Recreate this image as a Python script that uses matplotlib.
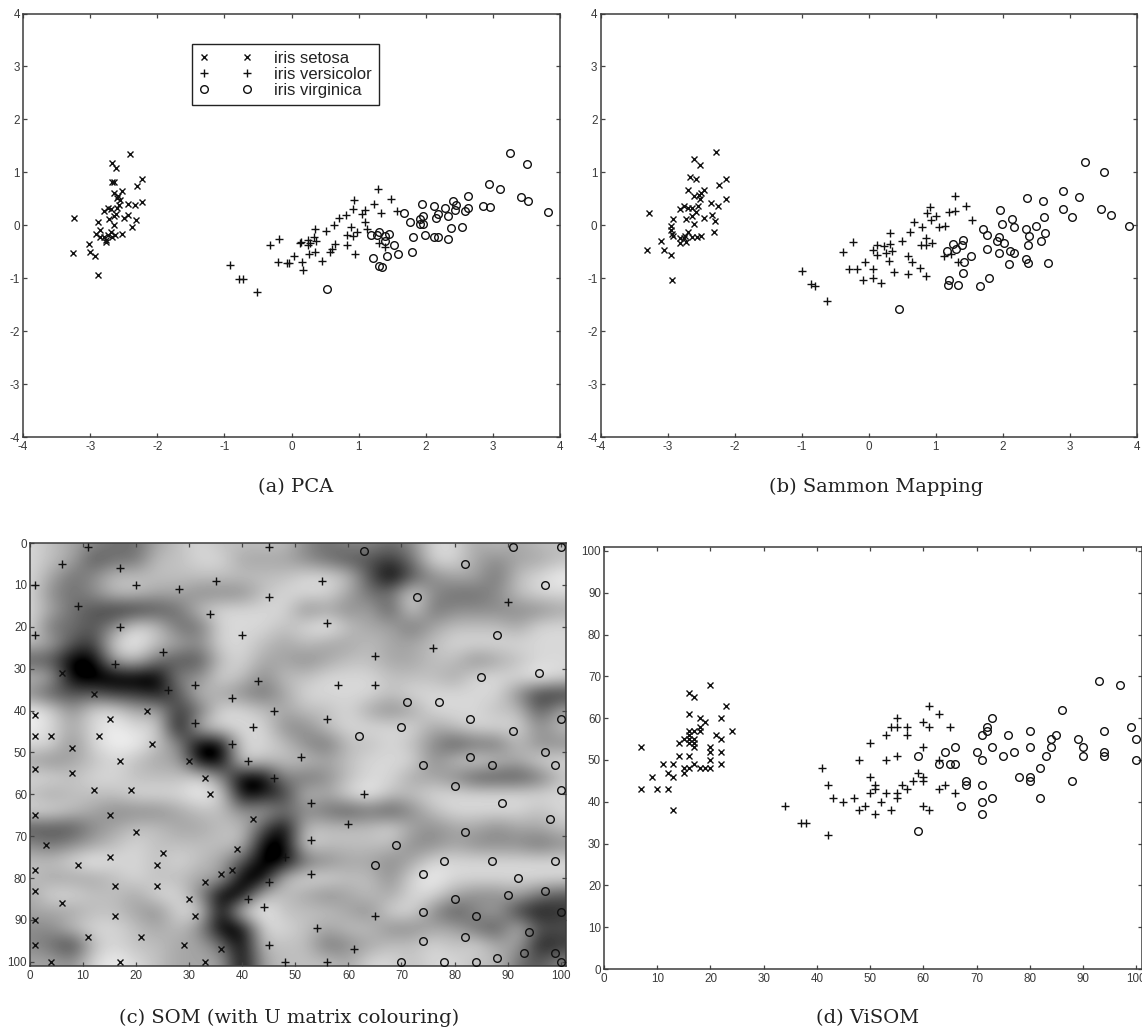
import numpy as np
import matplotlib
matplotlib.use("Agg")
import matplotlib.pyplot as plt
from matplotlib.colors import PowerNorm

plt.rcParams['font.family'] = ['Liberation Sans', 'DejaVu Sans']
plt.rcParams['axes.unicode_minus'] = False

# ---------- (a) PCA ----------
pca_setosa_x = [-2.40,-2.67,-2.62,-2.67,-2.64,-2.22,-2.30,-2.53,-2.64,-2.58,-2.60,-2.56,-2.22,-2.33,-2.43,-2.57,-2.60,-2.73,-2.69,-2.80,-2.61,-2.65,-2.72,-2.43,-2.49,-2.32,-2.89,-3.24,-2.64,-2.37,-2.85,-2.91,-2.69,-2.53,-2.63,-2.73,-2.68,-2.86,-2.79,-2.76,-2.77,-3.02,-3.25,-3.00,-2.92,-2.88]
pca_setosa_y = [1.34,1.18,1.09,.81,.81,.87,.74,.64,.60,.56,.51,.47,.43,.39,.41,.38,.33,.32,.31,.27,.22,.17,.11,.19,.13,.09,.07,.13,.01,-.04,-.09,-.16,-.13,-.16,-.19,-.19,-.22,-.23,-.23,-.27,-.32,-.35,-.52,-.50,-.58,-.94]
pca_versi_x = [-.92,-.78,-.72,-.52,-.32,-.18,-.20,-.07,-.03,.04,.12,.16,.17,.45,.14,.24,.24,.27,.34,.37,.35,.26,.35,.51,.58,.61,.65,.64,.71,.81,.82,.82,.92,.89,.98,.95,.91,.93,1.05,1.09,1.10,1.12,1.23,1.29,1.34,1.48,1.57,1.30,1.39]
pca_versi_y = [-.76,-1.02,-1.02,-1.27,-.38,-.26,-.69,-.72,-.72,-.59,-.33,-.69,-.84,-.68,-.32,-.27,-.38,-.33,-.22,-.30,-.08,-.55,-.51,-.11,-.50,-.45,-.36,.01,.14,.19,-.38,-.18,-.20,-.04,-.13,-.55,.31,.47,.22,.28,.07,-.08,.40,.68,.23,.49,.26,-.33,-.42]
pca_virgi_x = [.53,1.18,1.21,1.30,1.27,1.30,1.35,1.39,1.40,1.45,1.42,1.53,1.59,1.67,1.77,1.79,1.81,1.94,1.96,1.92,1.91,1.96,1.99,2.12,2.18,2.16,2.13,2.18,2.29,2.33,2.33,2.37,2.40,2.45,2.44,2.58,2.63,2.63,2.54,2.86,2.95,2.94,3.10,3.25,3.51,3.42,3.52,3.82]
pca_virgi_y = [-1.21,-.18,-.61,-.13,-.19,-.77,-.79,-.21,-.30,-.16,-.58,-.38,-.55,.23,.07,-.51,-.23,.40,.18,.11,.03,.03,-.19,.36,.21,.13,-.22,-.23,.32,.17,-.26,-.05,.45,.38,.29,.26,.33,.55,-.03,.36,.34,.77,.68,1.36,1.16,.53,.45,.25]

# ---------- (b) Sammon ----------
sam_setosa_x = [-2.28,-2.60,-2.51,-2.66,-2.57,-2.13,-2.23,-2.46,-2.69,-2.60,-2.53,-2.50,-2.52,-2.13,-2.35,-2.25,-2.55,-2.63,-2.69,-2.75,-2.81,-2.58,-2.64,-2.72,-2.46,-2.34,-2.29,-2.92,-3.28,-2.61,-2.95,-2.95,-2.93,-2.92,-2.31,-2.69,-2.50,-2.56,-2.64,-2.74,-2.81,-2.76,-2.72,-2.81,-3.10,-3.30,-3.05,-2.95,-2.93]
sam_setosa_y = [1.38,1.25,1.14,.92,.87,.88,.76,.67,.67,.56,.58,.61,.50,.50,.42,.36,.36,.33,.32,.37,.30,.25,.17,.12,.14,.20,.08,.11,.23,.02,-.01,-.09,-.16,-.21,-.12,-.13,-.21,-.22,-.22,-.20,-.24,-.25,-.31,-.33,-.30,-.46,-.46,-.57,-1.04]
sam_versi_x = [-1.00,-.86,-.80,-.63,-.39,-.23,-.30,-.17,-.05,-.08,.07,.06,.18,.06,.13,.22,.31,.35,.25,.13,.31,.30,.38,.49,.61,.58,.64,.58,.76,.86,.67,.79,.87,.93,.91,1.01,1.05,1.14,1.20,1.29,1.28,1.45,1.54,.78,.85,.86,.94,1.12,1.22,1.33]
sam_versi_y = [-.86,-1.11,-1.14,-1.43,-.50,-.31,-.82,-.83,-.70,-1.03,-.82,-.99,-1.10,-.47,-.38,-.40,-.36,-.48,-.53,-.57,-.14,-.68,-.88,-.30,-.13,-.58,-.69,-.93,-.81,-.96,.06,-.03,.23,.09,.35,.18,-.03,-.02,.25,.26,.56,.37,.09,-.38,-.38,-.25,-.33,-.58,-.55,-.69]
sam_virgi_x = [.45,1.17,1.25,1.30,1.39,1.41,1.52,1.42,1.40,1.19,1.18,1.33,1.66,1.79,1.76,1.71,1.77,1.96,1.98,1.94,1.91,2.02,1.94,2.09,2.11,2.16,2.14,2.17,2.35,2.39,2.38,2.35,2.37,2.36,2.49,2.60,2.61,2.63,2.57,2.68,2.89,2.90,3.03,3.13,3.23,3.51,3.46,3.61,3.88]
sam_virgi_y = [-1.58,-.48,-.36,-.44,-.38,-.27,-.58,-.69,-.91,-1.04,-1.12,-1.13,-1.14,-.99,-.45,-.07,-.18,.28,.03,-.23,-.30,-.33,-.53,-.73,-.48,-.52,.11,-.03,-.07,-.20,-.38,-.64,-.71,.52,-.01,.45,.16,-.14,-.30,-.71,.64,.31,.16,.53,1.19,1.01,.31,.20,-.02]

# ---------- (c) SOM ----------
som_setosa_x = [1,1,4,13,15,22,12,6,8,23,17,30,1,8,33,12,19,34,1,15,42,20,3,39,25,15,9,24,1,38,36,16,24,33,1,6,30,16,31,1,11,21,1,29,36,4,17,33]
som_setosa_y = [41,46,46,46,42,40,36,31,49,48,52,52,54,55,56,59,59,60,65,65,66,69,72,73,74,75,77,77,78,78,79,82,82,81,83,86,85,89,89,90,94,94,96,96,97,100,100,100]
som_versi_x = [11,45,6,17,1,20,35,28,45,9,34,17,1,40,25,16,43,31,26,38,46,31,42,38,41,55,56,65,76,58,65,56,51,90,46,48,45,41,44,45,48,63,53,60,53,53,65,54,61,56]
som_versi_y = [1,1,5,6,10,10,9,11,13,15,17,20,22,22,26,29,33,34,35,37,40,43,44,48,52,9,19,27,25,34,34,42,51,14,56,75,81,85,87,96,100,60,62,67,71,79,89,92,97,100]
som_virgi_x = [63,91,100,82,97,73,88,96,85,71,77,70,83,100,62,91,97,83,74,87,99,80,100,89,98,82,69,78,87,99,65,74,92,97,90,80,74,100,84,94,82,74,93,99,88,70,78,84,100]
som_virgi_y = [2,1,1,5,10,13,22,31,32,38,38,44,42,42,46,45,50,51,53,53,53,58,59,62,66,69,72,76,76,76,77,79,80,83,84,85,88,88,89,93,94,95,98,98,99,100,100,100,100]
# U-matrix gray levels (0 black .. 9 light) read on a coarse 26x26 lattice, step 4 units
u_levels_rows = [
    "8765446787777" "5455458867677",
    "8763447788666" "5433248865667",
    "8645777777777" "8873035664789",
    "8545776655578" "8864485445788",
    "8643223478888" "5656384555556",
    "8443587448887" "8976646777688",
    "7632897658876" "7667667888888",
    "3300674337866" "5677667756788",
    "7600000558757" "7888777688898",
    "5333221376546" "8888788888522",
    "9858866248876" "7786568887736",
    "9868988078885" "5788886788857",
    "8858997500887" "5477875344755",
    "6567876600877" "7678885787688",
    "8878877785005" "4578866533347",
    "7677788898012" "7689778888888",
    "8876555677564" "5434357888878",
    "3335677667730" "7777865665667",
    "5456787777700" "8777755655545",
    "7789887876300" "4566568888888",
    "7666787766007" "8877589888888",
    "6887768850077" "6567688655643",
    "6667765880897" "7765885356212",
    "5578876750088" "7677556643733",
    "5427877664077" "7456778786612",
    "6658987666067" "7768878877435",
]
u_matrix = np.array([[int(c) for c in r] for r in u_levels_rows], dtype=float)

# ---------- (d) ViSOM ----------
vis_setosa_x = [20,16,17,23,16,18,19,22,24,16,17,18,18,21,22,16,15,16,14,16,17,17,17,20,20,22,14,16,20,11,13,22,17,15,16,18,19,20,15,12,13,9,7,7,10,12,13]
vis_setosa_y = [68,66,65,63,61,60,59,60,57,57,57,57,58,56,55,56,55,55,54,54,55,54,53,53,52,52,51,51,50,49,49,49,49,48,48,48,48,48,47,47,46,46,53,43,43,43,38]
vis_versi_x = [34,37,38,42,41,48,50,42,43,45,47,49,48,50,50,51,51,51,52,53,54,55,55,53,54,55,55,57,57,53,55,56,57,58,59,60,60,60,60,61,61,63,65,60,61,63,64,66,63]
vis_versi_y = [39,35,35,32,48,50,54,44,41,40,41,39,38,46,42,44,43,37,40,42,38,42,41,56,58,58,60,58,56,50,51,44,43,45,47,46,45,53,59,58,63,61,58,39,38,43,44,42,50]
vis_virgi_x = [59,59,63,64,65,66,66,68,68,67,70,71,72,72,73,71,73,71,71,71,73,76,75,77,80,80,78,80,80,82,82,83,84,84,85,86,88,89,90,90,94,94,94,93,97,99,100,100]
vis_virgi_y = [33,51,49,52,49,49,53,45,44,39,52,56,57,58,60,50,53,44,40,37,41,56,51,52,57,53,46,46,45,48,41,51,53,55,56,62,45,55,53,51,57,52,51,69,68,58,55,50]

labels = ["iris setosa", "iris versicolor", "iris virginica"]
panel_captions = ["(a) PCA", "(b) Sammon Mapping", "(c) SOM (with U matrix colouring)", "(d) ViSOM"]
ticks_pca = list(range(-4, 5))
ticks_pct = list(range(0, 101, 10))

W, H = 1142, 1035
fig = plt.figure(figsize=(W/100, H/100), dpi=100, facecolor='white')

def make_axes(l, t, r, b):
    ax = fig.add_axes([l/W, 1-b/H, (r-l)/W, (b-t)/H])
    ax.tick_params(direction='in', length=3, width=0.9, top=True, right=True,
                   labelsize=8.4, labelcolor='#3a3a3a', color='#444444')
    ax.tick_params(axis='x', pad=3.2)
    ax.tick_params(axis='y', pad=2.2)
    for s in ax.spines.values():
        s.set_linewidth(1.1)
        s.set_edgecolor('#3c3c3c')
    return ax

def draw(ax, xs, ys):
    hs = []
    styles = [('x', 4.3), ('+', 5.6), ('o', 5.5)]
    for (x, y), (m, ms), lab in zip(zip(xs, ys), styles, labels):
        h, = ax.plot(x, y, ls='none', marker=m, ms=ms, mew=1.0, mfc='none', mec='#111111',
                     label=lab, clip_on=False, zorder=3)
        hs.append(h)
    return hs

# (a)
ax = make_axes(23, 13.5, 560, 437)
hs = draw(ax, [pca_setosa_x, pca_versi_x, pca_virgi_x], [pca_setosa_y, pca_versi_y, pca_virgi_y])
ax.set_xlim(-4, 4); ax.set_ylim(-4, 4)
ax.set_xticks(ticks_pca); ax.set_yticks(ticks_pca)
leg = ax.legend(handles=hs, loc='upper left', bbox_to_anchor=(0.3147, 0.928), borderaxespad=0,
                numpoints=2, handlelength=3.2, handletextpad=1.33, borderpad=0.42,
                labelspacing=0.05, fontsize=12, frameon=True, fancybox=False, framealpha=1,
                edgecolor='#222222')
leg.get_frame().set_linewidth(1.0)
for t in leg.get_texts():
    t.set_color('#222222')

# (b)
ax = make_axes(600.5, 13.5, 1137, 437)
draw(ax, [sam_setosa_x, sam_versi_x, sam_virgi_x], [sam_setosa_y, sam_versi_y, sam_virgi_y])
ax.set_xlim(-4, 4); ax.set_ylim(-4, 4)
ax.set_xticks(ticks_pca); ax.set_yticks(ticks_pca)

# (c)
ax = make_axes(30, 543, 566, 966)
ax.imshow(u_matrix, cmap='gray', norm=PowerNorm(0.85, vmin=0.6, vmax=9.6), interpolation='bicubic',
          extent=(-2, 102, 102, -2), aspect='auto', zorder=1)
draw(ax, [som_setosa_x, som_versi_x, som_virgi_x], [som_setosa_y, som_versi_y, som_virgi_y])
ax.set_xlim(0, 101); ax.set_ylim(101, 0)
ax.set_xticks(ticks_pct); ax.set_yticks(ticks_pct)

# (d)
ax = make_axes(604, 546.8, 1141.5, 969)
draw(ax, [vis_setosa_x, vis_versi_x, vis_virgi_x], [vis_setosa_y, vis_versi_y, vis_virgi_y])
ax.set_xlim(0, 101); ax.set_ylim(0, 101)
ax.set_xticks(ticks_pct); ax.set_yticks(ticks_pct)

cap_pos = [(296, 487), (876, 487), (289, 1018), (868, 1018)]
for cap, (cx, cy) in zip(panel_captions, cap_pos):
    fig.text(cx/W, 1-cy/H, cap, ha='center', va='center', fontsize=14,
             family=['DejaVu Serif'], color='#222222')

fig.savefig('out.png', dpi=100)
